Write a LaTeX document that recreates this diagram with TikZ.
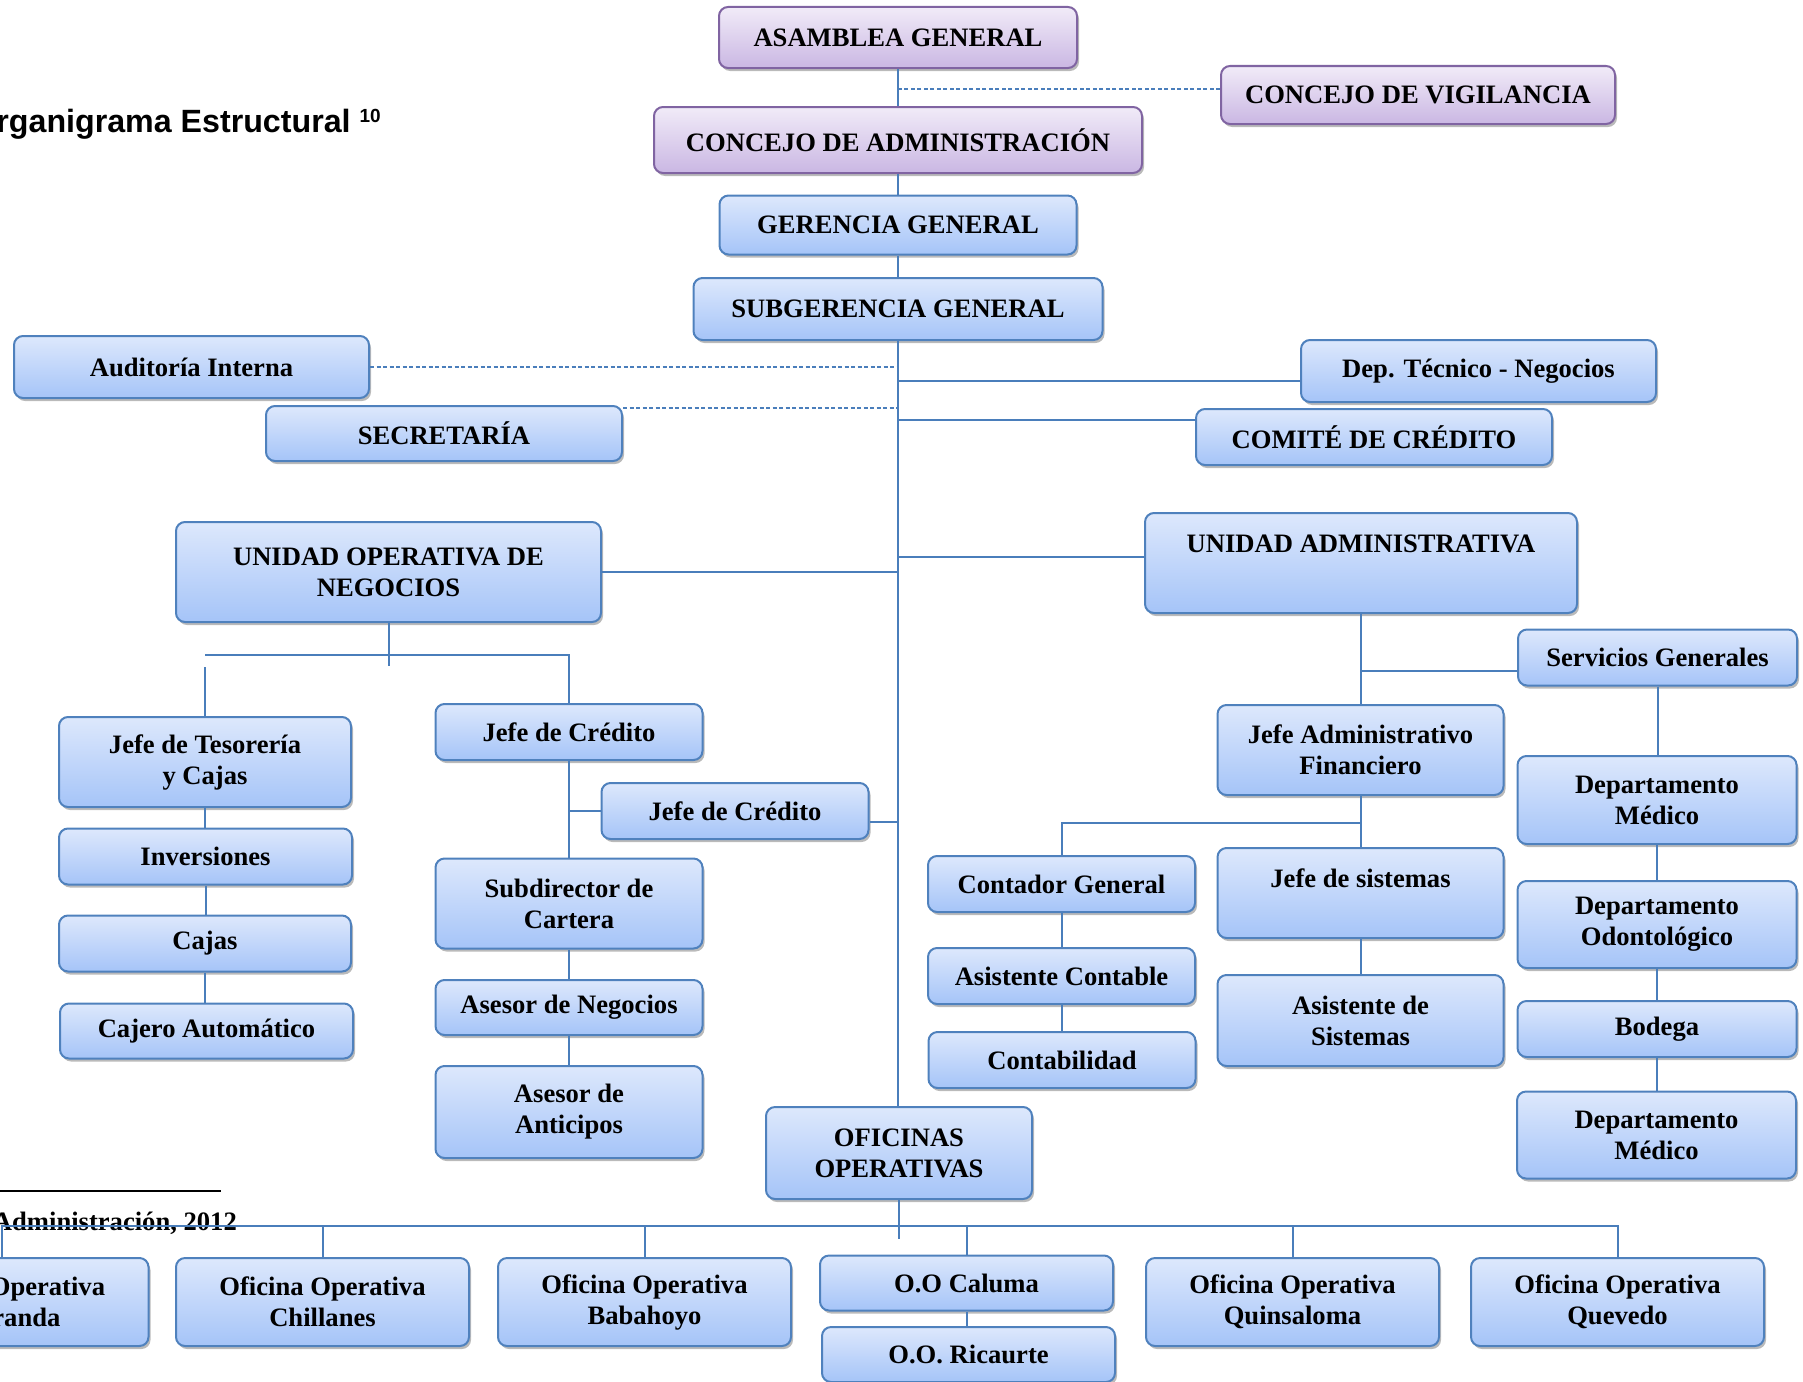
\documentclass[tikz,border=0pt]{standalone}
\usepackage{fontspec}
\setmainfont{Liberation Serif}
\newfontfamily\titlefont{Liberation Sans}
\usetikzlibrary{shadows,calc}
\definecolor{edgeblue}{HTML}{4F81BD}
\definecolor{edgeviolet}{HTML}{8064A2}
\definecolor{fillhi}{HTML}{DDE8FC}
\definecolor{filllo}{HTML}{A5C4F8}
\definecolor{violethi}{HTML}{F1EBF8}
\definecolor{violetlo}{HTML}{CAB7E3}
\definecolor{wireblue}{HTML}{4A7EBB}

\begin{document}
\begin{tikzpicture}[x=1pt, y=-1pt,
    unit/.style={draw=edgeblue, line width=2pt, rounded corners=9pt, top color=fillhi, bottom color=filllo,
      align=center, inner sep=0pt, font=\fontsize{26.6}{31}\selectfont\bfseries,
      drop shadow={shadow xshift=2pt, shadow yshift=-3pt, fill=black!60, opacity=.45}},
    board/.style={unit, draw=edgeviolet, top color=violethi, bottom color=violetlo},
    boxsize/.style 2 args={minimum width=#1pt, minimum height=#2pt},
    wire/.style={draw=wireblue, line width=2pt},
    dotwire/.style={wire, line width=1.6pt, dash pattern=on 4pt off 2.5pt}]
  \useasboundingbox (0,0) rectangle (1803,1381);

  \node[anchor=base east, inner sep=0pt, font=\titlefont\bfseries\fontsize{32.2}{37}\selectfont] (titulo) at (381,132)
    {Organigrama Estructural \raisebox{10pt}{\fontsize{19}{19}\selectfont 10}};
  \draw[line width=1.5pt] (0,1191) -- (221,1191);
  \node[anchor=base east, inner sep=0pt, font=\fontsize{26.6}{31}\selectfont\bfseries] (fuente) at (237,1230) {Administración, 2012};

  % direction
  \node[board, boxsize={358}{61}] (asamblea) at (898,37.5) {ASAMBLEA GENERAL};
  \node[board, boxsize={488}{66}] (consejo) at (898,140) {CONCEJO DE ADMINISTRACIÓN};
  \node[board, boxsize={394}{58}] (vigilancia) at (1418,95) {CONCEJO DE VIGILANCIA};
  \node[unit, boxsize={357}{59}] (gerencia) at (898,225) {GERENCIA GENERAL};
  \node[unit, boxsize={409}{62}] (subgerencia) at (898,309) {SUBGERENCIA GENERAL};
  \node[unit, boxsize={355}{62}] (auditoria) at (191.5,367) {Auditoría Interna};
  \node[unit, boxsize={356}{55}] (secretaria) at (444,433.5) {SECRETARÍA};
  \node[unit, boxsize={355}{62}] (tecnico) at (1478.5,371) {Dep. Técnico - Negocios};
  \node[unit, boxsize={356}{56}] (comite) at (1374,437) {COMITÉ DE CRÉDITO};

  % units
  \node[unit, boxsize={425}{100}] (negocios) at (388.5,572) {UNIDAD OPERATIVA DE\\NEGOCIOS};
  \node[unit, boxsize={432}{100}, text height=19pt, text depth=41pt] (administrativa) at (1361,563) {UNIDAD ADMINISTRATIVA};

  \node[unit, boxsize={292}{90}] (tesoreria) at (205,762) {Jefe de Tesorería\\y Cajas};
  \node[unit, boxsize={293}{56}] (inversiones) at (205.5,856.5) {Inversiones};
  \node[unit, boxsize={292}{56}] (cajas) at (205,943.5) {Cajas};
  \node[unit, boxsize={293}{55}] (cajero) at (206.5,1031) {Cajero Automático};
  \node[unit, boxsize={267}{56}] (credito) at (569,732) {Jefe de Crédito};
  \node[unit, boxsize={267}{56}] (creditob) at (735,811) {Jefe de Crédito};
  \node[unit, boxsize={267}{90}] (cartera) at (569,903.5) {Subdirector de\\Cartera};
  \node[unit, boxsize={267}{55}] (asesorneg) at (569,1007.5) {Asesor de Negocios};
  \node[unit, boxsize={267}{92}] (anticipos) at (569,1112) {Asesor de\\Anticipos};

  \node[unit, boxsize={279}{56}] (servicios) at (1657.5,657.5) {Servicios Generales};
  \node[unit, boxsize={286}{90}] (financiero) at (1360.5,750) {Jefe Administrativo\\Financiero};
  \node[unit, boxsize={279}{88}] (medico) at (1657,800) {Departamento\\Médico};
  \node[unit, boxsize={279}{87}] (odonto) at (1657,924.5) {Departamento\\Odontológico};
  \node[unit, boxsize={279}{56}] (bodega) at (1657,1029) {Bodega};
  \node[unit, boxsize={279}{87}] (medicob) at (1656.5,1135) {Departamento\\Médico};
  \node[unit, boxsize={267}{56}] (contador) at (1061.5,884) {Contador General};
  \node[unit, boxsize={267}{56}] (asistcont) at (1061.5,976) {Asistente Contable};
  \node[unit, boxsize={267}{56}] (contabilidad) at (1062,1060) {Contabilidad};
  \node[unit, boxsize={286}{90}, text height=19pt, text depth=31pt] (sistemas) at (1360.5,893) {Jefe de sistemas};
  \node[unit, boxsize={286}{91}] (asistsis) at (1360.5,1020.5) {Asistente de\\Sistemas};

  % offices
  \node[unit, boxsize={266}{92}] (oficinas) at (899,1153) {OFICINAS\\OPERATIVAS};
  \foreach \name/\x/\town in {guaranda/2/Guaranda, chillanes/322.5/Chillanes, babahoyo/644.5/Babahoyo,
      quinsaloma/1292.5/Quinsaloma, quevedo/1617.5/Quevedo}
    \node[unit, boxsize={293}{88}] (\name) at (\x,1302) {Oficina Operativa\\\town};
  \node[unit, boxsize={293}{55}] (caluma) at (966.5,1283) {O.O Caluma};
  \node[unit, boxsize={293}{55}] (ricaurte) at (968.5,1354.5) {O.O. Ricaurte};

  % trunk and staff lines
  \draw[wire] (asamblea) -- (consejo);
  \draw[wire] (consejo) -- (gerencia);
  \draw[wire] (gerencia) -- (subgerencia);
  \draw[wire] (subgerencia.south) -- (subgerencia.south |- oficinas.north);
  \draw[dotwire] ([yshift=6pt]vigilancia.west) -- ([yshift=6pt]vigilancia.west -| asamblea.south);
  \draw[dotwire] (auditoria.east) -- (auditoria.east -| subgerencia.south);
  \draw[dotwire] ([yshift=-3pt]secretaria.north east) -- ([yshift=-3pt]secretaria.north east -| subgerencia.south);
  \draw[wire] ([yshift=-10pt]tecnico.west) -- ([yshift=-10pt]tecnico.west -| subgerencia.south);
  \draw[wire] ([yshift=17pt]comite.west) -- ([yshift=17pt]comite.west -| subgerencia.south);
  \draw[wire] (negocios.east) -- (negocios.east -| subgerencia.south);
  \draw[wire] ([yshift=6pt]administrativa.west) -- ([yshift=6pt]administrativa.west -| subgerencia.south);
  \draw[wire] ([yshift=-11pt]creditob.east) -- ([yshift=-11pt]creditob.east -| subgerencia.south);

  % chains
  \foreach \a/\b in {tesoreria/inversiones, inversiones/cajas, cajas/cajero, credito/cartera, cartera/asesorneg,
      asesorneg/anticipos, administrativa/financiero, servicios/medico, medico/odonto, odonto/bodega,
      bodega/medicob, financiero/sistemas, sistemas/asistsis, contador/asistcont, asistcont/contabilidad,
      caluma/ricaurte}
    \draw[wire] (\a.south) -- (\a.south |- \b.north);

  \coordinate (negsplit) at ($(negocios.south)+(0,32)$);
  \draw[wire] (negocios.south) -- ++(0,43);
  \draw[wire] (tesoreria.north |- negsplit) -- (credito.north |- negsplit) -- (credito.north);
  \draw[wire] (tesoreria.north) -- ++(0,-49);
  \draw[wire] (creditob.west) -- (creditob.west -| credito.south);
  \draw[wire] ([yshift=-13pt]servicios.west) -- ([yshift=-13pt]servicios.west -| administrativa.south);
  \coordinate (finsplit) at ($(financiero.south)+(0,27)$);
  \draw[wire] (finsplit) -| (contador.north);

  \coordinate (bus) at ($(oficinas.south)+(0,26)$);
  \draw[wire] (oficinas.south) -- ++(0,39);
  \draw[wire] (guaranda.north) |- (bus) -| (quevedo.north);
  \foreach \o in {chillanes, babahoyo, caluma, quinsaloma}
    \draw[wire] (\o.north) -- (\o.north |- bus);
\end{tikzpicture}
\end{document}
